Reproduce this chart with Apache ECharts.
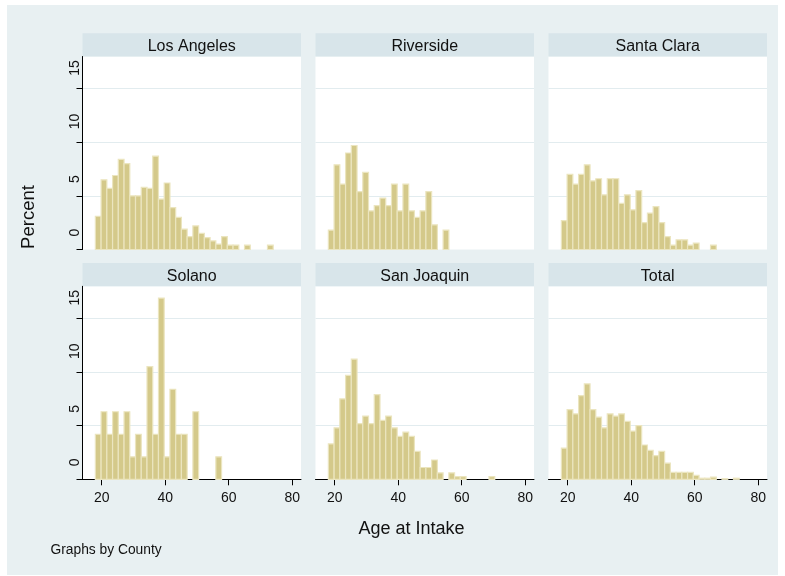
<!DOCTYPE html>
<html>
<head>
<meta charset="utf-8">
<script src="https://cdn.jsdelivr.net/npm/echarts@6/dist/echarts.min.js"></script>
<style>
html,body{margin:0;padding:0;background:#ffffff;}
#chart{width:785px;height:576px;}
</style>
</head>
<body>
<div id="chart"></div>
<script>
// ---- Data (percent of cases per age bin) ----
const counties = ['Los Angeles', 'Riverside', 'Santa Clara', 'Solano', 'San Joaquin', 'Total'];
const binStart = 18;          // first bin edge (years)
const binEnd = 74;            // last bin edge (years)
const binCount = 31;          // number of bins
const losAngeles = [3.1, 6.5, 5.7, 6.9, 8.4, 8.0, 5.0, 5.0, 5.8, 5.7, 8.7, 4.7, 6.2, 3.9, 3.0, 1.9, 1.2, 2.2, 1.5, 1.1, 0.8, 0.5, 1.2, 0.4, 0.4, 0, 0.4, 0, 0, 0, 0.4];
const riverside  = [1.8, 7.9, 6.1, 9.0, 9.7, 5.4, 7.2, 3.6, 4.1, 4.8, 4.1, 6.1, 3.6, 6.1, 3.6, 3.0, 3.6, 5.4, 2.3, 0, 1.8, 0, 0, 0, 0, 0, 0, 0, 0, 0, 0];
const santaClara = [2.7, 7.0, 6.1, 7.0, 7.9, 6.4, 6.6, 5.1, 6.6, 6.6, 4.3, 5.1, 3.7, 5.5, 2.5, 3.4, 4.0, 2.5, 1.2, 0.4, 0.9, 0.9, 0.4, 0.6, 0, 0, 0.4, 0, 0, 0, 0];
const solano     = [4.2, 6.3, 4.2, 6.3, 4.2, 6.3, 2.1, 4.2, 2.1, 10.5, 4.2, 16.9, 2.1, 8.4, 4.2, 4.2, 0, 6.3, 0, 0, 0, 2.1, 0, 0, 0, 0, 0, 0, 0, 0, 0];
const sanJoaquin = [3.3, 4.8, 7.5, 9.7, 11.2, 5.2, 5.9, 5.2, 7.9, 5.5, 5.9, 4.8, 4.0, 4.4, 4.0, 2.6, 1.1, 1.1, 1.8, 0.6, 0, 0.6, 0.25, 0.25, 0, 0, 0, 0, 0.25, 0, 0];
const total      = [2.9, 6.5, 6.1, 7.8, 8.9, 6.5, 5.8, 4.8, 6.1, 5.9, 6.1, 5.4, 4.5, 5.0, 3.2, 2.7, 2.2, 2.6, 1.5, 0.65, 0.65, 0.65, 0.65, 0.37, 0.1, 0.1, 0.2, 0, 0.05, 0, 0.1];
const panelValues = [losAngeles, riverside, santaClara, solano, sanJoaquin, total];
const xTicks = [20, 40, 60, 80];
const yTicks = [0, 5, 10, 15];

// ---- Layout ----
const colLeft = [82.5, 315.5, 548.5];
const plotW = 218.5;
const rowTop = [56.5, 286.3];
const plotH = 193;
const stripH = 23.3;
const xMin = 13.95, xMax = 82.75;
const yMax = 18;
const FONT = '"Liberation Sans", Arial, sans-serif';

const binW = (binEnd - binStart) / binCount;

const grids = [], xAxes = [], yAxes = [], series = [], graphics = [];

graphics.push({
  type: 'rect', z: -10,
  shape: { x: 7, y: 5, width: 771, height: 570 },
  style: { fill: '#e8f0f2' }
});

panelValues.forEach((vals, i) => {
  const r = Math.floor(i / 3), c = i % 3;
  const isLeft = c === 0, isBottom = r === 1;
  grids.push({
    left: colLeft[c], top: rowTop[r], width: plotW, height: plotH,
    show: true, backgroundColor: '#ffffff', borderWidth: 0, containLabel: false
  });
  xAxes.push({
    type: 'value', gridIndex: i, min: xMin, max: xMax,
    axisLine: { show: isBottom, onZero: false, lineStyle: { color: '#000000', width: 1 } },
    axisTick: { show: isBottom, length: 6, customValues: xTicks, lineStyle: { color: '#000000' } },
    axisLabel: { show: isBottom, customValues: xTicks, margin: 12, fontSize: 14, color: '#111111', fontFamily: FONT },
    splitLine: { show: false }
  });
  yAxes.push({
    type: 'value', gridIndex: i, min: 0, max: yMax, interval: 5,
    axisLine: { show: isLeft, lineStyle: { color: '#000000', width: 1 } },
    axisTick: { show: isLeft, length: 6, customValues: yTicks, lineStyle: { color: '#000000', width: 1 } },
    axisLabel: {
      show: isLeft, customValues: yTicks, rotate: 90, align: 'left', verticalAlign: 'middle',
      padding: [0, 0, 0, 13], margin: 7, fontSize: 14, color: '#111111', fontFamily: FONT
    },
    splitLine: { show: true, showMinLine: false, showMaxLine: true, lineStyle: { color: '#e2ecef', width: 1 } }
  });
  const data = [];
  vals.forEach((v, k) => {
    if (v > 0) data.push([binStart + k * binW, binStart + (k + 1) * binW, v]);
  });
  series.push({
    type: 'custom', xAxisIndex: i, yAxisIndex: i, data: data,
    encode: { x: [0, 1], y: 2 },
    renderItem: function (params, api) {
      const p0 = api.coord([api.value(0), 0]);
      const p1 = api.coord([api.value(1), api.value(2)]);
      return {
        type: 'rect',
        shape: { x: p0[0], y: p1[1], width: p1[0] - p0[0], height: p0[1] - p1[1] },
        style: { fill: '#d4c98a', stroke: '#ebe5bf', lineWidth: 1.2 }
      };
    }
  });
  graphics.push({
    type: 'rect',
    shape: { x: colLeft[c], y: rowTop[r] - stripH, width: plotW, height: stripH },
    style: { fill: '#d8e5ea' }
  });
  graphics.push({
    type: 'text', x: colLeft[c] + plotW / 2, y: rowTop[r] - stripH / 2 + 1.5,
    style: { text: counties[i], fontSize: 16, fontFamily: FONT, fill: '#111111', align: 'center', verticalAlign: 'middle' }
  });
});

graphics.push({
  type: 'text', x: 29, y: 217, rotation: Math.PI / 2,
  style: { text: 'Percent', fontSize: 18.5, fontFamily: FONT, fill: '#111111', align: 'center', verticalAlign: 'middle' }
});
graphics.push({
  type: 'text', x: 411.5, y: 529,
  style: { text: 'Age at Intake', fontSize: 18, fontFamily: FONT, fill: '#111111', align: 'center', verticalAlign: 'middle' }
});
graphics.push({
  type: 'text', x: 50.5, y: 550,
  style: { text: 'Graphs by County', fontSize: 13.8, fontFamily: FONT, fill: '#111111', align: 'left', verticalAlign: 'middle' }
});

const chart = echarts.init(document.getElementById('chart'), null, { renderer: 'canvas' });
chart.setOption({
  animation: false,
  backgroundColor: '#ffffff',
  grid: grids,
  xAxis: xAxes,
  yAxis: yAxes,
  series: series,
  graphic: { elements: graphics }
});
</script>
</body>
</html>
